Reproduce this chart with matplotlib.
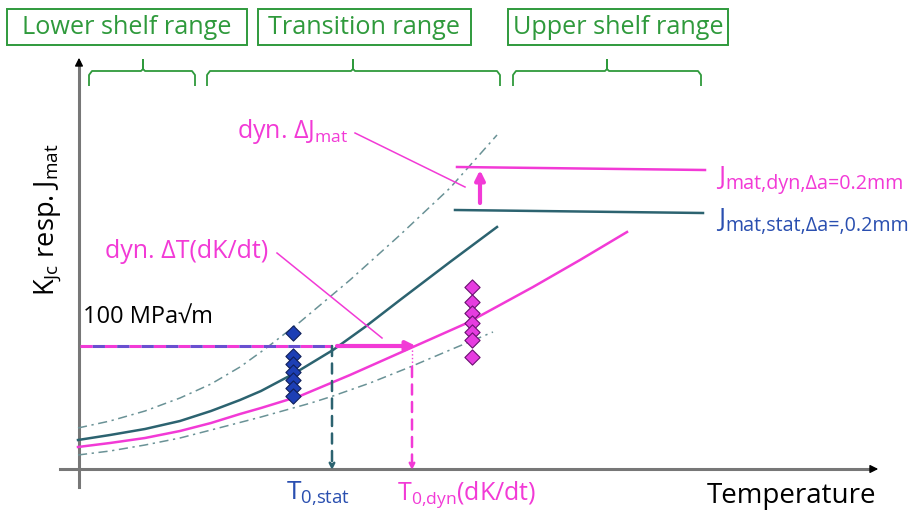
import matplotlib
matplotlib.use('Agg')
import numpy as np
import matplotlib.pyplot as plt
from matplotlib.patches import Rectangle

plt.rcParams['font.family'] = ['Open Sans', 'DejaVu Sans']

# regime boxes and braces (pixel coordinates, y pointing down)
range_names = ["Lower shelf range", "Transition range", "Upper shelf range"]
box_left = [7, 258, 508]
box_right = [247, 471, 728]
brace_left = [89, 207, 513]
brace_right = [195, 500, 701]
brace_mid = [143, 353, 607]

# toughness vs temperature sketch (px)
stat_x = [78, 110, 145, 180, 211, 240, 261, 295, 333, 365, 400, 450, 497]
stat_y = [440, 435, 429, 421, 411, 400, 391, 373, 350, 327, 300, 262, 227]
dyn_x = [78, 110, 145, 180, 211, 240, 261, 300, 350, 413, 467, 533, 580, 627]
dyn_y = [447, 443, 438, 431, 423, 414, 408, 396, 375, 347, 323, 287, 260, 232]
upper_x = [78, 110, 145, 180, 211, 240, 265, 300, 350, 400, 450, 497]
upper_y = [428, 421, 411, 398, 384, 367, 349, 322, 280, 235, 188, 135]
lower_x = [78, 110, 145, 180, 211, 261, 311, 333, 370, 410, 450, 493]
lower_y = [455, 451, 445, 438, 430, 417, 403, 396, 383, 367, 350, 332]

# test results
stat_pts_x = [293] * 7
stat_pts_y = [333, 356, 364, 372, 380, 388, 396]
dyn_pts_x = [472] * 7
dyn_pts_y = [287, 302, 313, 323, 332, 340, 357]

# reference levels
k_ref_y = 346
t0_stat_x = 332
t0_dyn_x = 412
j_dyn_y = 168
j_stat_y = 211

GREEN = '#2f9a3c'
TEAL = '#2c6370'
MAG = '#f23ad6'
BLUE = '#2a4fb0'
DASH = '#6a9296'

fig = plt.figure(figsize=(9.13, 5.13), dpi=100)
ax = fig.add_axes([0, 0, 1, 1])
ax.set_xlim(0, 913)
ax.set_ylim(513, 0)
ax.axis('off')


def sub_label(x, y, main, sub, color, size, subsize):
    # main letter with a plain-text subscript hung off its lower right corner
    t = ax.text(x, y, main, color=color, fontsize=size, ha='left', va='baseline')
    ax.annotate(sub, xy=(1, 0), xycoords=t, xytext=(0.5, 1), textcoords='offset points',
                color=color, fontsize=subsize, ha='left', va='baseline')


# range boxes
for name, l, r in zip(range_names, box_left, box_right):
    ax.add_patch(Rectangle((l, 9), r - l, 36, fill=False, ec=GREEN, lw=1.4))
    ax.text((l + r) / 2, 28, name, color=GREEN, fontsize=18.2, ha='center', va='center')

# braces
for l, r, m in zip(brace_left, brace_right, brace_mid):
    bx = [l, l, l + 3, m - 2, m, m, m, m + 2, r - 3, r, r]
    by = [86, 75, 71, 71, 69, 60, 69, 71, 71, 75, 86]
    ax.plot(bx, by, color=GREEN, lw=1.3, solid_capstyle='butt')

# axes with arrows
ax.plot([79, 79], [487, 62], color='#777777', lw=2.2)
ax.annotate('', xy=(79, 55), xytext=(79, 66),
            arrowprops=dict(arrowstyle='-|>', color='black', lw=1, mutation_scale=12))
ax.plot([60, 872], [469, 469], color='#777777', lw=2.2)
ax.annotate('', xy=(881, 469), xytext=(868, 469),
            arrowprops=dict(arrowstyle='-|>', color='black', lw=1, mutation_scale=12))

ax.text(48, 220, r'K$_{\mathregular{Jc}}$ resp. J$_{\mathregular{mat}}$', rotation=90,
        fontsize=19.5, ha='center', va='center')
ax.text(876, 496, 'Temperature', fontsize=20, ha='right', va='center')

# scatter band
ax.plot(upper_x, upper_y, color=DASH, lw=1.1, ls=(0, (6, 3, 1.5, 3)))
ax.plot(lower_x, lower_y, color=DASH, lw=1.1, ls=(0, (6, 3, 1.5, 3)))

# static and dynamic curves
ax.plot(stat_x, stat_y, color=TEAL, lw=1.8)
ax.plot(dyn_x, dyn_y, color=MAG, lw=1.8)

# upper shelf levels
ax.plot([457, 705], [j_dyn_y - 1, j_dyn_y + 2], color=MAG, lw=1.8)
ax.plot([455, 703], [j_stat_y - 1, j_stat_y + 2], color=TEAL, lw=1.8)
ax.annotate('', xy=(480, 170), xytext=(480, 203),
            arrowprops=dict(arrowstyle='-|>', color=MAG, lw=3, mutation_scale=14,
                            shrinkA=0, shrinkB=0))
sub_label(718, 184, 'J', 'mat,dyn,Δa=0.2mm', MAG, 19, 14.2)
sub_label(718, 226, 'J', 'mat,stat,Δa=,0.2mm', BLUE, 19, 14.2)

# reference toughness level
ax.plot([80, t0_stat_x], [k_ref_y, k_ref_y], color=MAG, lw=2.2, ls=(0, (4, 4)))
ax.plot([80, t0_stat_x], [k_ref_y, k_ref_y], color='#6a4fd0', lw=2.2, ls=(4, (4, 4)))
ax.text(83, 317, '100 MPa√m', fontsize=17, ha='left', va='center')

# temperature shift arrow
ax.annotate('', xy=(416, k_ref_y), xytext=(337, k_ref_y),
            arrowprops=dict(arrowstyle='-|>', color=MAG, lw=3, mutation_scale=14,
                            shrinkA=0, shrinkB=0))

# drop lines to T0
ax.annotate('', xy=(t0_stat_x, 470), xytext=(t0_stat_x, k_ref_y),
            arrowprops=dict(arrowstyle='-|>', color=TEAL, lw=1.8, ls=(0, (4, 3)),
                            mutation_scale=8, shrinkA=0, shrinkB=0))
ax.plot([t0_dyn_x, t0_dyn_x], [350, 366], color=MAG, lw=1, ls=':')
ax.annotate('', xy=(t0_dyn_x, 470), xytext=(t0_dyn_x, 367),
            arrowprops=dict(arrowstyle='-|>', color=MAG, lw=1.8, ls=(0, (4, 3)),
                            mutation_scale=8, shrinkA=0, shrinkB=0))

# test points
ax.scatter(stat_pts_x, stat_pts_y, marker='D', s=60, color='#1d3fb5', edgecolors='#10205a',
           linewidths=0.8, zorder=5)
ax.scatter(dyn_pts_x, dyn_pts_y, marker='D', s=60, color='#e63ce0', edgecolors='#6a1070',
           linewidths=0.8, zorder=5)

ax.text(318, 494, r'T$_{\mathregular{0{,}stat}}$', color=BLUE, fontsize=19, ha='center',
        va='center')
ax.text(467, 494, r'T$_{\mathregular{0{,}dyn}}$(dK/dt)', color=MAG, fontsize=18, ha='center',
        va='center')

# callouts
ax.text(105, 252, 'dyn. ΔT(dK/dt)', color=MAG, fontsize=18, ha='left', va='center')
ax.plot([277, 382], [253, 338], color=MAG, lw=1.1)
ax.text(237, 131, r'dyn. ΔJ$_{\mathregular{mat}}$', color=MAG, fontsize=18, ha='left',
        va='center')
ax.plot([355, 465], [133, 187], color=MAG, lw=1.1)

fig.savefig('out.png', dpi=100)
